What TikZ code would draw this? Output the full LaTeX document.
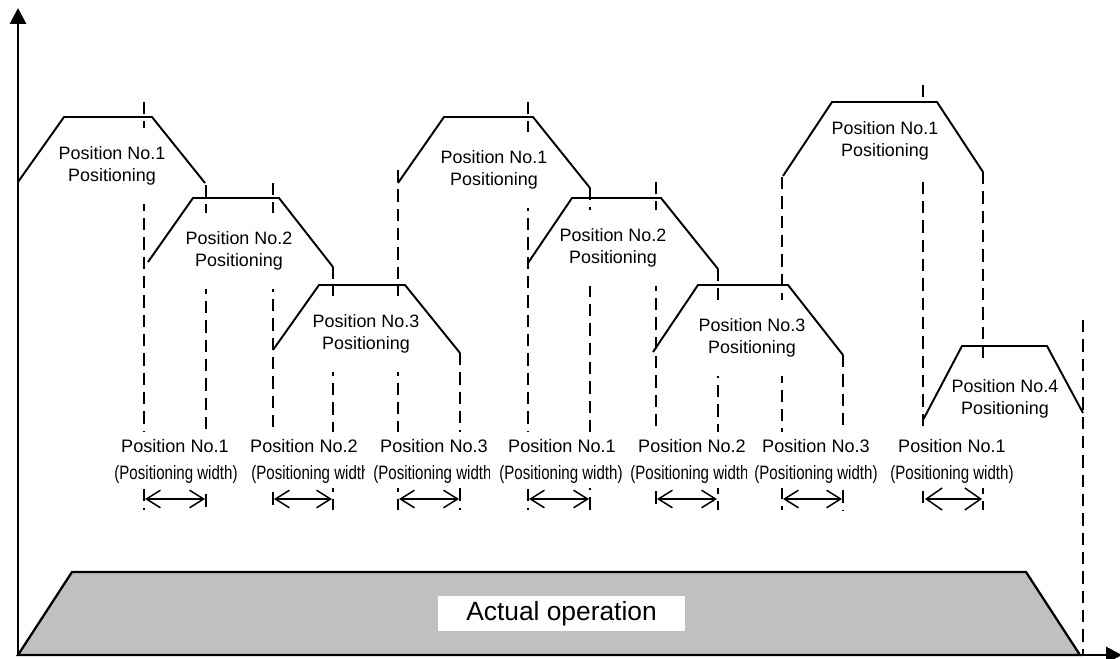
\documentclass[tikz,border=0pt]{standalone}
\usepackage{fontspec}
\usepackage{graphicx}
\setmainfont{Liberation Sans}
\usetikzlibrary{arrows.meta}

\definecolor{opgray}{RGB}{192,192,192}

\begin{document}
\begin{tikzpicture}[
    x=0.02cm, y=-0.02cm,
    axis/.style={line width=1.6pt, {Triangle[length=9pt,width=9pt]}-{Triangle[length=9pt,width=9pt]}},
    profile/.style={line width=1.1pt},
    guide/.style={line width=0.9pt, dash pattern=on 7pt off 4pt},
    postext/.style={fill=white, align=center, inner xsep=1pt, inner ysep=10.5pt, font=\fontsize{10.2}{12.5}\selectfont},
    wtitle/.style={fill=white, inner xsep=1pt, inner ysep=0pt, minimum height=0.56cm, font=\fontsize{10.3}{12}\selectfont},
    wtext/.style={fill=white, inner xsep=0pt, inner ysep=0pt, minimum height=0.56cm, font=\fontsize{11}{12}\selectfont},
    span/.style={line width=0.85pt, {Straight Barb[length=8pt,width=10pt]}-{Straight Barb[length=8pt,width=10pt]}},
    spanwide/.style={line width=0.85pt, {Straight Barb[length=9pt,width=12.5pt]}-{Straight Barb[length=9pt,width=12.5pt]}},
    opbox/.style={fill=white, minimum width=4.94cm, minimum height=0.7cm, inner sep=0pt, font=\fontsize{15}{18}\selectfont}
]

\useasboundingbox (0,0) rectangle (1120,659);

% actual operation
\draw[line width=1.3pt, fill=opgray] (18,655) -- (72,572) -- (1026,572) -- (1080,655) -- cycle;
\node[opbox] (op) at (561.5,613.5) {Actual operation};

% guide lines
\foreach \x/\ya/\yb in {144/102/510, 206/185/510, 273/183/510, 333/267/510, 398/170/510,
    460/353/510, 528/102/510, 590/188/510, 656/182/510, 718/269/510, 782/177/510,
    843/355/510, 923/85/510, 983/172/510, 1083/320/655}
    \draw[guide] (\x,\ya) -- (\x,\yb);

% profile labels
\foreach \n/\x/\y/\k in {1/112/166/1, 2/239/251/2, 3/366/334/3, 4/494/170/1,
    5/613/248/2, 6/752/338/3, 7/885/141/1, 8/1005/399/4}
    \node[postext] (t\n) at (\x,\y) {Position No.\k\\Positioning};

% positioning width labels
\foreach \n/\x/\k in {1/175/1, 2/304/2, 3/434/3, 4/562/1, 5/692/2, 6/816/3, 7/952/1}
    \node[wtitle] (p\n) at (\x,446) {Position No.\k};
\foreach \n/\x in {1/176, 4/561, 6/816, 7/952}
    \node[wtext] (w\n) at (\x,474) {\scalebox{0.78}[1]{(Positioning width)}};
\foreach \n/\x/\c in {2/251/364, 3/373/489, 5/630/746} {
    \begin{scope}
        \clip (\x,458) rectangle (\c,490);
        \node[wtext, anchor=west] (w\n) at (\x,474) {\scalebox{0.78}[1]{(Positioning width)}};
    \end{scope}
}

% profiles
\foreach \xa/\ya/\xb/\yb/\xc/\xd/\yd in {18/182/64/117/152/205/183,
    148/262/193/198/279/333/267, 273/350/319/285/405/460/353,
    398/183/444/117/533/590/188, 528/263/572/198/661/718/269,
    653/352/698/285/788/843/355, 783/176/832/102/937/983/172,
    923/420/962/346/1047/1083/413}
    \draw[profile] (\xa,\ya) -- (\xb,\yb) -- (\xc,\yb) -- (\xd,\yd);

% width arrows
\foreach \n/\xa/\xb in {1/144/206, 2/273/333, 3/398/460, 4/528/590, 5/656/718, 6/782/843} {
    \coordinate (a\n) at (\xa+1,499);
    \coordinate (b\n) at (\xb-1,499);
    \draw[span] (a\n) -- (b\n);
}
\coordinate (a7) at (925,499);
\coordinate (b7) at (982,499);
\draw[spanwide] (a7) -- (b7);

% axes
\coordinate (origin) at (18,655);
\draw[axis] (18,8) -- (origin) -- (1122,655);

\end{tikzpicture}
\end{document}
